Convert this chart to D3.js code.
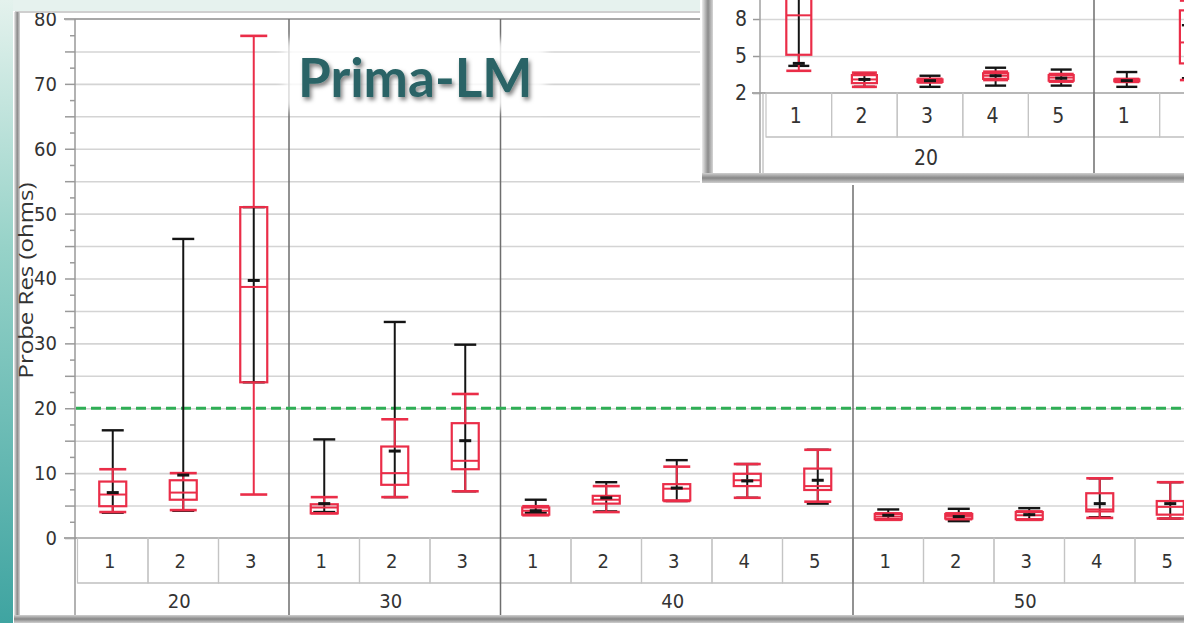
<!DOCTYPE html>
<html>
<head>
<meta charset="utf-8">
<script src="https://cdn.jsdelivr.net/npm/d3@7"></script>
<style>
  body { margin: 0; background: #fff; overflow: hidden; }
  svg { display: block; }
  .lbl { font-family: "Liberation Sans Narrow", "DejaVu Sans Condensed", sans-serif; fill: #333; }
</style>
</head>
<body>
<svg></svg>
<script>
// main chart categories: group and item inside each group
const groupNames = ["20", "30", "40", "50"];
const itemNames = [["1", "2", "3"], ["1", "2", "3"], ["1", "2", "3", "4", "5"], ["1", "2", "3", "4", "5"]];

// black range bars + mean, one value per item, in the order above
const rangeHigh = [16.6, 46.1, 51.0, 15.2, 33.3, 29.8, 5.9, 8.6, 12.0, 11.4, 13.6, 4.4, 4.5, 4.6, 9.2, 8.6];
const rangeLow  = [3.9, 4.2, 24.0, 4.0, 6.3, 7.2, 3.9, 4.1, 5.7, 6.2, 5.3, 2.9, 2.6, 2.8, 3.2, 3.0];
const meanValues = [7.0, 9.7, 39.7, 5.3, 13.4, 15.0, 4.2, 6.2, 7.7, 8.8, 8.9, 3.5, 3.3, 3.6, 5.3, 5.3];

// red box plots
const whiskerHigh = [10.6, 10.0, 77.4, 6.3, 18.3, 22.2, 4.9, 8.0, 11.0, 11.4, 13.6, 3.8, 3.8, 4.1, 9.2, 8.6];
const boxQ3       = [8.7, 8.9, 51.0, 5.2, 14.1, 17.7, 4.7, 6.5, 8.3, 9.9, 10.7, 3.7, 3.7, 4.0, 6.9, 5.7];
const boxMedian   = [6.7, 7.0, 38.7, 4.7, 10.0, 11.9, 4.2, 5.9, 7.6, 8.9, 8.0, 3.3, 3.4, 3.5, 4.4, 4.8];
const boxQ1       = [4.9, 5.9, 24.0, 3.8, 8.2, 10.6, 3.6, 5.3, 5.8, 8.0, 7.4, 2.9, 3.0, 2.9, 4.1, 3.6];
const whiskerLow  = [4.0, 4.3, 6.7, 3.8, 6.3, 7.2, 3.5, 4.0, 5.7, 6.2, 5.6, 2.8, 2.9, 2.8, 3.1, 3.0];

const yTicks = [0, 10, 20, 30, 40, 50, 60, 70, 80];
const limitLine = 20;
const titleText = "Prima-LM";
const yTitle = "Probe Res (ohms)";

// inset (zoomed screenshot in the top right corner)
const insetGroupNames = ["20", ""];
const insetItemNames = [["1", "2", "3", "4", "5"], ["1", "2"]];
const insetRangeHigh = [12.0, 3.6, 3.4, 4.05, 3.9, 3.7, 7.5];
const insetRangeLow  = [4.2, 2.5, 2.5, 2.6, 2.6, 2.5, 3.2];
const insetMeans     = [4.4, 3.1, 3.0, 3.4, 3.2, 3.0, 5.6];
const insetWhiskerHigh = [13.0, 3.65, 3.15, 3.73, 3.54, 3.14, 9.5];
const insetQ3          = [10.5, 3.45, 3.1, 3.6, 3.45, 3.1, 8.7];
const insetMedian      = [8.3, 3.1, 3.0, 3.4, 3.25, 3.05, 6.1];
const insetQ1          = [5.1, 2.8, 2.9, 3.15, 3.0, 2.95, 4.4];
const insetWhiskerLow  = [3.8, 2.5, 2.85, 3.05, 2.92, 2.9, 3.05];
const insetYTicks = [2, 5, 8];

const W = 1184, H = 623;
const RED = "#ea2d48", BLACK = "#141414";

const svg = d3.select("svg").attr("width", W).attr("height", H);
const defs = svg.append("defs");

// gradients for the slide background and window frame
const teal = defs.append("linearGradient").attr("id", "teal").attr("x1", 0).attr("y1", 0).attr("x2", 0).attr("y2", 1);
teal.append("stop").attr("offset", 0).attr("stop-color", "#e4f2ed");
teal.append("stop").attr("offset", 0.4).attr("stop-color", "#96d2c8");
teal.append("stop").attr("offset", 1).attr("stop-color", "#3fa4a1");

const frameV = defs.append("linearGradient").attr("id", "frameV").attr("x1", 0).attr("y1", 0).attr("x2", 1).attr("y2", 0);
frameV.append("stop").attr("offset", 0).attr("stop-color", "#ececec");
frameV.append("stop").attr("offset", 0.55).attr("stop-color", "#8a8a8a");
frameV.append("stop").attr("offset", 1).attr("stop-color", "#d6d6d6");

const frameH = defs.append("linearGradient").attr("id", "frameH").attr("x1", 0).attr("y1", 0).attr("x2", 0).attr("y2", 1);
frameH.append("stop").attr("offset", 0).attr("stop-color", "#d0d0d0");
frameH.append("stop").attr("offset", 0.5).attr("stop-color", "#868686");
frameH.append("stop").attr("offset", 1).attr("stop-color", "#cfcfcf");

const shadow = defs.append("filter").attr("id", "shadow").attr("x", "-10%").attr("y", "-20%").attr("width", "130%").attr("height", "160%");
shadow.append("feDropShadow").attr("dx", 2).attr("dy", 3).attr("stdDeviation", 2)
  .attr("flood-color", "#000").attr("flood-opacity", 0.5);

const soft = defs.append("filter").attr("id", "soft").attr("x", "-20%").attr("y", "-40%").attr("width", "140%").attr("height", "180%");
soft.append("feGaussianBlur").attr("stdDeviation", 4);

svg.append("rect").attr("width", W).attr("height", H).attr("fill", "#fff");

// --- build flat keys for the band scale
const buildKeys = (groups, items) => {
  const keys = [], spans = [];
  groups.forEach((g, gi) => {
    const first = keys.length;
    items[gi].forEach(it => keys.push(g + "|" + it + "|" + gi));
    spans.push({ name: g, first: keys[first], last: keys[keys.length - 1] });
  });
  return { keys, spans };
};

// draw a variability chart: black range bar + mean, red box plot
const drawBoxes = (g, keys, xs, ys, d, boxW, capW) => {
  const cx = k => xs(k) + xs.bandwidth() / 2;

  g.selectAll("line.rng").data(keys).join("line").attr("class", "rng")
    .attr("x1", cx).attr("x2", cx)
    .attr("y1", (k, i) => ys(d.rHigh[i])).attr("y2", (k, i) => ys(d.rLow[i]))
    .attr("stroke", BLACK).attr("stroke-width", 2);

  [d.rHigh, d.rLow].forEach((arr, j) => {
    g.selectAll("line.rcap" + j).data(keys).join("line").attr("class", "rcap" + j)
      .attr("x1", k => cx(k) - capW / 2).attr("x2", k => cx(k) + capW / 2)
      .attr("y1", (k, i) => ys(arr[i])).attr("y2", (k, i) => ys(arr[i]))
      .attr("stroke", BLACK).attr("stroke-width", 2.4);
  });

  // whiskers
  g.selectAll("line.wUp").data(keys).join("line").attr("class", "wUp")
    .attr("x1", cx).attr("x2", cx)
    .attr("y1", (k, i) => ys(d.wHigh[i])).attr("y2", (k, i) => ys(d.q3[i]))
    .attr("stroke", RED).attr("stroke-width", 2);
  g.selectAll("line.wDn").data(keys).join("line").attr("class", "wDn")
    .attr("x1", cx).attr("x2", cx)
    .attr("y1", (k, i) => ys(d.q1[i])).attr("y2", (k, i) => ys(d.wLow[i]))
    .attr("stroke", RED).attr("stroke-width", 2);

  [d.wHigh, d.wLow, d.med].forEach((arr, j) => {
    g.selectAll("line.bcap" + j).data(keys).join("line").attr("class", "bcap" + j)
      .attr("x1", k => cx(k) - boxW / 2).attr("x2", k => cx(k) + boxW / 2)
      .attr("y1", (k, i) => ys(arr[i])).attr("y2", (k, i) => ys(arr[i]))
      .attr("stroke", RED).attr("stroke-width", j < 2 ? 2.6 : 2);
  });

  g.selectAll("rect.box").data(keys).join("rect").attr("class", "box")
    .attr("x", k => cx(k) - boxW / 2).attr("width", boxW)
    .attr("y", (k, i) => ys(d.q3[i]))
    .attr("height", (k, i) => Math.max(0.5, ys(d.q1[i]) - ys(d.q3[i])))
    .attr("fill", "none").attr("stroke", RED).attr("stroke-width", 2.2);

  g.selectAll("line.mean").data(keys).join("line").attr("class", "mean")
    .attr("x1", k => cx(k) - 6).attr("x2", k => cx(k) + 6)
    .attr("y1", (k, i) => ys(d.mean[i])).attr("y2", (k, i) => ys(d.mean[i]))
    .attr("stroke", BLACK).attr("stroke-width", 3);
};

// label rows under a variability chart
const drawLabelRows = (g, keys, spans, xs, top, mid, bottom, fontSize, sepTop) => {
  g.selectAll("rect.cell").data(keys).join("rect").attr("class", "cell")
    .attr("x", k => xs(k)).attr("y", top).attr("width", xs.bandwidth()).attr("height", mid - top)
    .attr("fill", "none").attr("stroke", "#c4c4c4").attr("stroke-width", 1.2);
  // only label cells whose centre is inside the window (the screenshot is cropped)
  g.selectAll("text.item").data(keys.filter(k => xs(k) + xs.bandwidth() / 2 < W - 8)).join("text").attr("class", "item lbl")
    .attr("x", k => xs(k) + xs.bandwidth() / 2 - 3).attr("y", (top + mid) / 2)
    .attr("dy", "0.36em").attr("text-anchor", "middle").style("font-size", fontSize + "px")
    .text(k => k.split("|")[1]);

  g.append("line").attr("x1", xs.range()[0]).attr("x2", W).attr("y1", mid).attr("y2", mid)
    .attr("stroke", "#c4c4c4").attr("stroke-width", 1.2);
  g.selectAll("text.grp").data(spans).join("text").attr("class", "grp lbl")
    .attr("x", s => (xs(s.first) + xs(s.last) + xs.bandwidth()) / 2 - 4).attr("y", (mid + bottom) / 2 + 2)
    .attr("dy", "0.36em").attr("text-anchor", "middle").style("font-size", fontSize + "px")
    .text(s => s.name);

  // group separators
  g.selectAll("line.gsep").data(spans.slice(1)).join("line").attr("class", "gsep")
    .attr("x1", s => xs(s.first)).attr("x2", s => xs(s.first))
    .attr("y1", sepTop).attr("y2", bottom + 8)
    .attr("stroke", "#6e6e6e").attr("stroke-width", 1.5);
};

// ================= MAIN CHART =================
const main = buildKeys(groupNames, itemNames);
const x = d3.scaleBand().domain(main.keys).range([77.5, 77.5 + main.keys.length * 70.5]).padding(0);
const y = d3.scaleLinear().domain([0, 80]).range([538, 19]);

const plot = svg.append("g");

// gridlines every 5
plot.append("g")
  .attr("transform", "translate(75,0)")
  .call(d3.axisLeft(y).tickValues(d3.range(5, 80, 5)).tickSize(-(W - 75)).tickFormat(""))
  .call(g => g.select(".domain").remove())
  .call(g => g.selectAll("line").attr("stroke", "#d4d4d4").attr("stroke-width", 1.6));

// y axis: long ticks every 5, labels every 10, short ticks in between
plot.append("g")
  .attr("transform", "translate(75,0)")
  .call(d3.axisLeft(y).tickValues(d3.range(0, 81, 5)).tickSize(10).tickPadding(8)
    .tickFormat(v => yTicks.includes(v) ? v : ""))
  .call(g => g.select(".domain").remove())
  .call(g => g.selectAll("line").attr("stroke", "#9a9a9a").attr("stroke-width", 1.5))
  .call(g => g.selectAll("text").attr("class", "lbl").attr("fill", "#333").style("font-size", "20px"));

plot.append("g")
  .attr("transform", "translate(75,0)")
  .call(d3.axisLeft(y).tickValues(d3.range(2.5, 80, 5)).tickSize(5).tickFormat(""))
  .call(g => g.select(".domain").remove())
  .call(g => g.selectAll("line").attr("stroke", "#9a9a9a").attr("stroke-width", 1.5));

// frame of the plot
plot.append("line").attr("x1", 64).attr("x2", W).attr("y1", y(80)).attr("y2", y(80))
  .attr("stroke", "#a8a8a8").attr("stroke-width", 2);
plot.append("line").attr("x1", 64).attr("x2", W).attr("y1", y(0)).attr("y2", y(0))
  .attr("stroke", "#a8a8a8").attr("stroke-width", 2);
plot.append("line").attr("x1", 75).attr("x2", 75).attr("y1", y(80)).attr("y2", H)
  .attr("stroke", "#999").attr("stroke-width", 1.5);

drawLabelRows(plot, main.keys, main.spans, x, 538, 583, 615, 20, 19);

// spec limit
plot.append("line").attr("x1", 76).attr("x2", W).attr("y1", y(limitLine)).attr("y2", y(limitLine))
  .attr("stroke", "#2fae55").attr("stroke-width", 3).attr("stroke-dasharray", "10,5");

drawBoxes(plot.append("g"), main.keys, x, y, {
  rHigh: rangeHigh, rLow: rangeLow, mean: meanValues,
  wHigh: whiskerHigh, q3: boxQ3, med: boxMedian, q1: boxQ1, wLow: whiskerLow
}, 27, 22);

// window frame and slide background
svg.append("rect").attr("x", 0).attr("y", 0).attr("width", 700).attr("height", 11).attr("fill", "#e6f2ee");
svg.append("rect").attr("x", 0).attr("y", 0).attr("width", 13).attr("height", H).attr("fill", "url(#teal)");
svg.append("line").attr("x1", 15).attr("x2", 700).attr("y1", 12).attr("y2", 12).attr("stroke", "#cfcfcf").attr("stroke-width", 2);
svg.append("rect").attr("x", 14).attr("y", 12).attr("width", 6).attr("height", H - 12).attr("fill", "url(#frameV)");
svg.append("rect").attr("x", 14).attr("y", 615).attr("width", W - 14).attr("height", 8).attr("fill", "url(#frameH)");

// y title, on top of the frame edge like in the screenshot
svg.append("text").attr("class", "lbl")
  .attr("transform", `translate(33,${(y(80) + y(0)) / 2 + 2}) rotate(-90)`)
  .attr("text-anchor", "middle")
  .attr("textLength", 196).attr("lengthAdjust", "spacingAndGlyphs")
  .style("font-family", "'Open Sans', 'DejaVu Sans', sans-serif").style("font-size", "20px").attr("fill", "#444")
  .text(yTitle);

// title
svg.append("rect").attr("x", 284).attr("y", 40).attr("width", 262).attr("height", 70)
  .attr("fill", "#fff").attr("opacity", 0.85).attr("filter", "url(#soft)");
svg.append("text").attr("x", 298).attr("y", 97)
  .style("font-family", "Lato, 'Open Sans', sans-serif").style("font-weight", 700).style("font-size", "53px")
  .attr("fill", "#2a6466").attr("filter", "url(#shadow)")
  .text(titleText);

// ================= INSET =================
const ins = buildKeys(insetGroupNames, insetItemNames);
const xi = d3.scaleBand().domain(ins.keys).range([766, 766 + ins.keys.length * 65.6]).padding(0);
const yi = d3.scaleLinear().domain([2, 11]).range([93, 93 - 9 * 12.33]);

const inset = svg.append("g");
defs.append("clipPath").attr("id", "insClip").append("rect").attr("x", 712).attr("y", 0).attr("width", W - 712).attr("height", 174);

inset.append("rect").attr("x", 700).attr("y", 0).attr("width", W - 700).attr("height", 185).attr("fill", "#fff");
const insIn = inset.append("g").attr("clip-path", "url(#insClip)");

insIn.append("g")
  .attr("transform", "translate(760,0)")
  .call(d3.axisLeft(yi).tickValues([5, 8, 11]).tickSize(-(W - 760)).tickFormat(""))
  .call(g => g.select(".domain").remove())
  .call(g => g.selectAll("line").attr("stroke", "#d6d6d6").attr("stroke-width", 1.5));

insIn.append("g")
  .attr("transform", "translate(760,0)")
  .call(d3.axisLeft(yi).tickValues(insetYTicks).tickSize(7).tickPadding(6))
  .call(g => g.select(".domain").remove())
  .call(g => g.selectAll("line").attr("stroke", "#9a9a9a").attr("stroke-width", 1.5))
  .call(g => g.selectAll("text").attr("class", "lbl").attr("fill", "#333").style("font-size", "21px"));

insIn.append("line").attr("x1", 752).attr("x2", W).attr("y1", yi(2)).attr("y2", yi(2))
  .attr("stroke", "#a8a8a8").attr("stroke-width", 2);
insIn.append("line").attr("x1", 760).attr("x2", 760).attr("y1", 0).attr("y2", 175)
  .attr("stroke", "#a0a0a0").attr("stroke-width", 1.5);
insIn.append("line").attr("x1", 763).attr("x2", 763).attr("y1", 93).attr("y2", 175)
  .attr("stroke", "#b8b8b8").attr("stroke-width", 1.2);

drawLabelRows(insIn, ins.keys, ins.spans, xi, 93, 137, 173, 21, 0);

drawBoxes(insIn.append("g"), ins.keys, xi, yi, {
  rHigh: insetRangeHigh, rLow: insetRangeLow, mean: insetMeans,
  wHigh: insetWhiskerHigh, q3: insetQ3, med: insetMedian, q1: insetQ1, wLow: insetWhiskerLow
}, 25, 21);

// inset frame
inset.append("rect").attr("x", 702).attr("y", 0).attr("width", 11).attr("height", 183).attr("fill", "url(#frameV)");
inset.append("rect").attr("x", 702).attr("y", 173).attr("width", W - 702).attr("height", 10).attr("fill", "url(#frameH)");
</script>
</body>
</html>
